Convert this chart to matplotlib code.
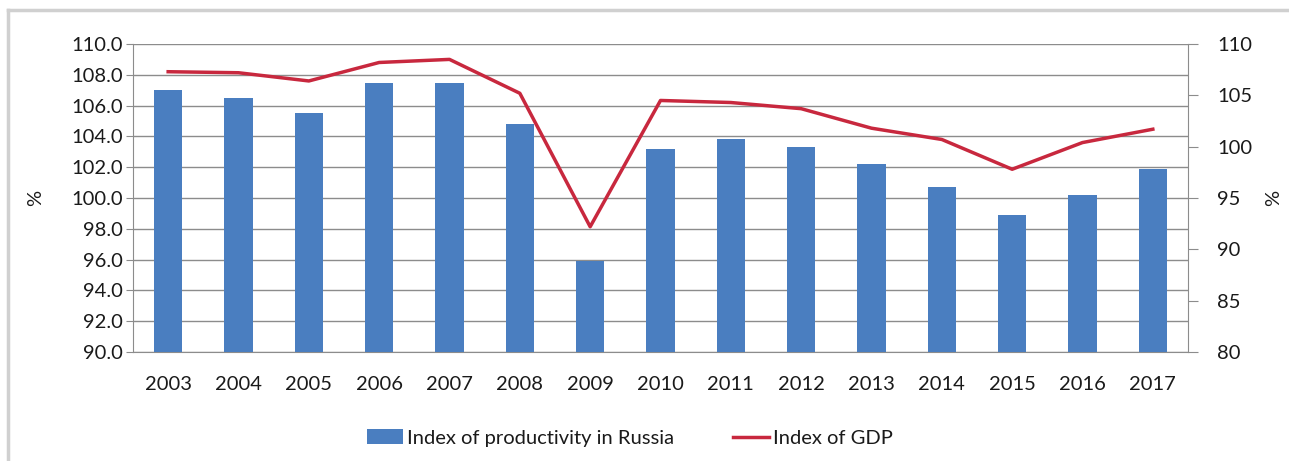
import matplotlib
matplotlib.use("Agg")
import matplotlib.pyplot as plt
from matplotlib.patches import Patch
from matplotlib.lines import Line2D

years = ["2003", "2004", "2005", "2006", "2007", "2008", "2009", "2010",
         "2011", "2012", "2013", "2014", "2015", "2016", "2017"]
productivity = [107.0, 106.5, 105.5, 107.5, 107.5, 104.8, 95.9, 103.2,
                103.8, 103.3, 102.2, 100.7, 98.9, 100.2, 101.9]
gdp = [107.3, 107.2, 106.4, 108.2, 108.5, 105.2, 92.2, 104.5,
       104.3, 103.7, 101.8, 100.7, 97.8, 100.4, 101.7]
left_ticks = [90, 92, 94, 96, 98, 100, 102, 104, 106, 108, 110]
right_ticks = [80, 85, 90, 95, 100, 105, 110]

plt.rcParams['font.family'] = ['Lato', 'DejaVu Sans']
FS = 14.5
TXT = '#1a1a1a'

fig = plt.figure(figsize=(12.89, 4.61), dpi=100)
W, H = 1289, 461
fig.lines.append(Line2D([8/W, 1.0], [1 - 10/H, 1 - 10/H], transform=fig.transFigure,
                        color='#d0d0d0', linewidth=2.5))
fig.lines.append(Line2D([8/W, 8/W], [0.0, 1 - 10/H], transform=fig.transFigure,
                        color='#d0d0d0', linewidth=2.5))

AX_L, AX_R = 133, 1188
ax = fig.add_axes([AX_L/W, 1 - 352/H, (AX_R - AX_L)/W, (352 - 44)/H])
x = list(range(len(years)))
ax.bar(x, [p - 90 for p in productivity], bottom=90, width=0.4,
       color='#4A7EC0', zorder=3)
ax.set_ylim(90, 110)
ax.set_xlim(-0.5, len(years) - 0.5)
ax.set_yticks(left_ticks)
ax.set_yticklabels([f"{t:.1f}" for t in left_ticks], fontsize=FS, color=TXT)
ax.set_xticks(x)
ax.set_xticklabels(years, fontsize=FS, color=TXT)
ax.tick_params(axis='x', length=0, pad=17)
ax.tick_params(axis='y', length=5, color='#8c8c8c', pad=2)
ax.grid(axis='y', color='#8c8c8c', linewidth=1.0, zorder=0)
for s in ['top', 'right']:
    ax.spines[s].set_visible(False)
for s in ['left', 'bottom']:
    ax.spines[s].set_color('#8c8c8c')
ax.set_ylabel('%', fontsize=FS, color=TXT)
ax.yaxis.set_label_coords((44 - AX_L)/(AX_R - AX_L), 0.5)

ax2 = ax.twinx()
ax2.plot(x, gdp, color='#C8283E', linewidth=2.5, zorder=4)
ax2.set_ylim(80, 110)
ax2.set_yticks(right_ticks)
ax2.set_yticklabels([str(t) for t in right_ticks], fontsize=FS, color=TXT)
ax2.tick_params(axis='y', length=7, color='#8c8c8c', pad=14)
for s in ['top', 'left', 'bottom']:
    ax2.spines[s].set_visible(False)
ax2.spines['right'].set_color('#8c8c8c')
ax2.set_ylabel('%', fontsize=FS, color=TXT, rotation=90)
ax2.yaxis.set_label_coords((1265 - AX_L)/(AX_R - AX_L), 0.5)

handles = [Patch(facecolor='#4A7EC0', label='Index of productivity in Russia'),
           Line2D([0], [0], color='#C8283E', linewidth=2.5, label='Index of GDP')]
fig.legend(handles=handles, loc='center', bbox_to_anchor=(630/W, 1 - 438/H),
           ncol=2, frameon=False, fontsize=FS, handlelength=1.8,
           handletextpad=0.2, columnspacing=2.9, labelcolor=TXT)

fig.savefig('out.png', dpi=100, facecolor='white')
